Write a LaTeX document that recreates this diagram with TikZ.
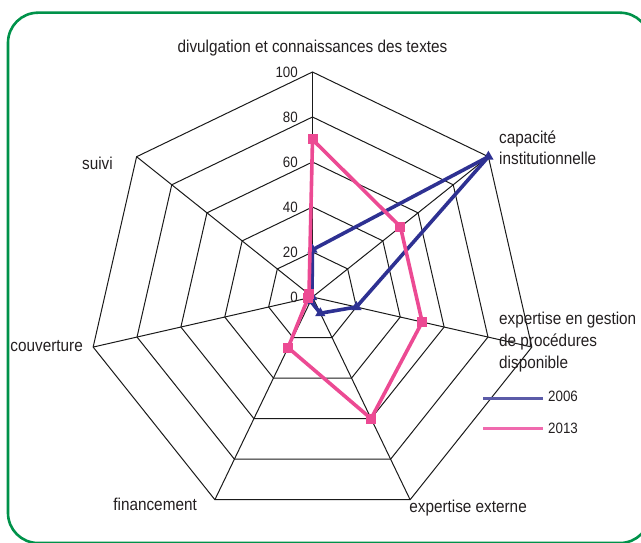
\documentclass[tikz,border=0pt]{standalone}
\usepackage{fontspec}
\setmainfont{Liberation Sans}[FakeStretch=0.89]
\usetikzlibrary{shapes.geometric}
\definecolor{gridc}{HTML}{1A1A1A}
\definecolor{blueD}{HTML}{2E3192}
\definecolor{pinkD}{HTML}{EC4A93}
\definecolor{blueL}{HTML}{5B5BA8}
\definecolor{pinkL}{HTML}{F06AAE}
\definecolor{frameG}{HTML}{00924A}
\definecolor{txt}{HTML}{231F20}
\begin{document}
\begin{tikzpicture}[x=1pt,y=1pt,
  gridline/.style={draw=gridc,line width=1pt},
  bline/.style={draw=blueD,line width=3.6pt,line join=round},
  pline/.style={draw=pinkD,line width=3.6pt,line join=round},
  btri/.style={regular polygon,regular polygon sides=3,fill=blueD,inner sep=0pt,minimum size=12pt},
  psq/.style={rectangle,fill=pinkD,inner sep=0pt,minimum size=10pt},
  lab/.style={inner sep=0pt,text=txt,font=\fontsize{17.2}{20}\selectfont},
  ticklab/.style={inner sep=0pt,text=txt,font=\fontsize{15}{18}\selectfont,anchor=east},
  leglab/.style={inner sep=0pt,text=txt,font=\fontsize{15}{18}\selectfont,anchor=base west},
  bleg/.style={draw=blueL,line width=3pt},
  pleg/.style={draw=pinkL,line width=3pt}]
\useasboundingbox (0,0) rectangle (641,542);
\begin{scope}
  \clip (0,0) rectangle (641,542);
  \draw[frameG,line width=2.6pt,rounded corners=30pt] (8,-1) rectangle (650,529.3);
\end{scope}

\begin{scope}[shift={(312.5,245)}]
  \coordinate (O) at (0,0);
  \foreach \k in {0,...,6}{
    \foreach \lv in {1,...,5}{
      \coordinate (g\k-\lv) at ({90-\k*360/7}:{\lv*45});
    }
  }
  \foreach \lv in {1,...,5}{
    \draw[gridline] (g0-\lv) -- (g1-\lv) -- (g2-\lv) -- (g3-\lv) -- (g4-\lv) -- (g5-\lv) -- (g6-\lv) -- cycle;
  }
  \foreach \k in {0,...,6}{
    \draw[gridline] (O) -- (g\k-5);
  }
  % tick labels
  \foreach \v in {0,20,40,60,80,100}{
    \node[ticklab] (t\v) at (-14.5,{\v*2.25}) {\v};
  }
  % data 2006
  \foreach \k/\v in {0/21,1/100,2/20,3/8,4/2,5/0.3,6/0.3}{
    \coordinate (b\k) at ({90-\k*360/7}:{\v*2.25});
  }
  % data 2013
  \foreach \k/\v in {0/70,1/50,2/50,3/60,4/25,5/2,6/2}{
    \coordinate (p\k) at ({90-\k*360/7}:{\v*2.25});
  }
  \draw[bline] (b0) -- (b1) -- (b2) -- (b3) -- (b4) -- (b5) -- (b6) -- cycle;
  \foreach \k in {0,...,6}{
    \node[btri] (bm\k) at (b\k) {};
  }
  \draw[pline] (p0) -- (p1) -- (p2) -- (p3) -- (p4) -- (p5) -- (p6) -- cycle;
  \foreach \k in {0,...,6}{
    \node[psq] (pm\k) at (p\k) {};
  }
\end{scope}

% axis labels
\node[lab,anchor=base] (l0) at (312.5,489) {divulgation et connaissances des textes};
\node[lab,anchor=base west] (l1a) at (499,398) {capacité};
\node[lab,anchor=base west] (l1b) at (499,377) {institutionnelle};
\node[lab,anchor=base west] (l2a) at (499,218) {expertise en gestion};
\node[lab,anchor=base west] (l2b) at (499,195) {de procédures};
\node[lab,anchor=base west] (l2c) at (499,173) {disponible};
\node[lab,anchor=base east] (l3) at (527,30) {expertise externe};
\node[lab,anchor=base east] (l4) at (197,32) {financement};
\node[lab,anchor=base east] (l5) at (83,190) {couverture};
\node[lab,anchor=base east] (l6) at (113,372) {suivi};

% legend
\coordinate (lb1) at (483,144);
\coordinate (lb2) at (543,144);
\coordinate (lp1) at (483,114);
\coordinate (lp2) at (543,114);
\draw[bleg] (lb1) -- (lb2);
\draw[pleg] (lp1) -- (lp2);
\node[leglab] (y06) at (548,140) {2006};
\node[leglab] (y13) at (548,109) {2013};
\end{tikzpicture}
\end{document}
